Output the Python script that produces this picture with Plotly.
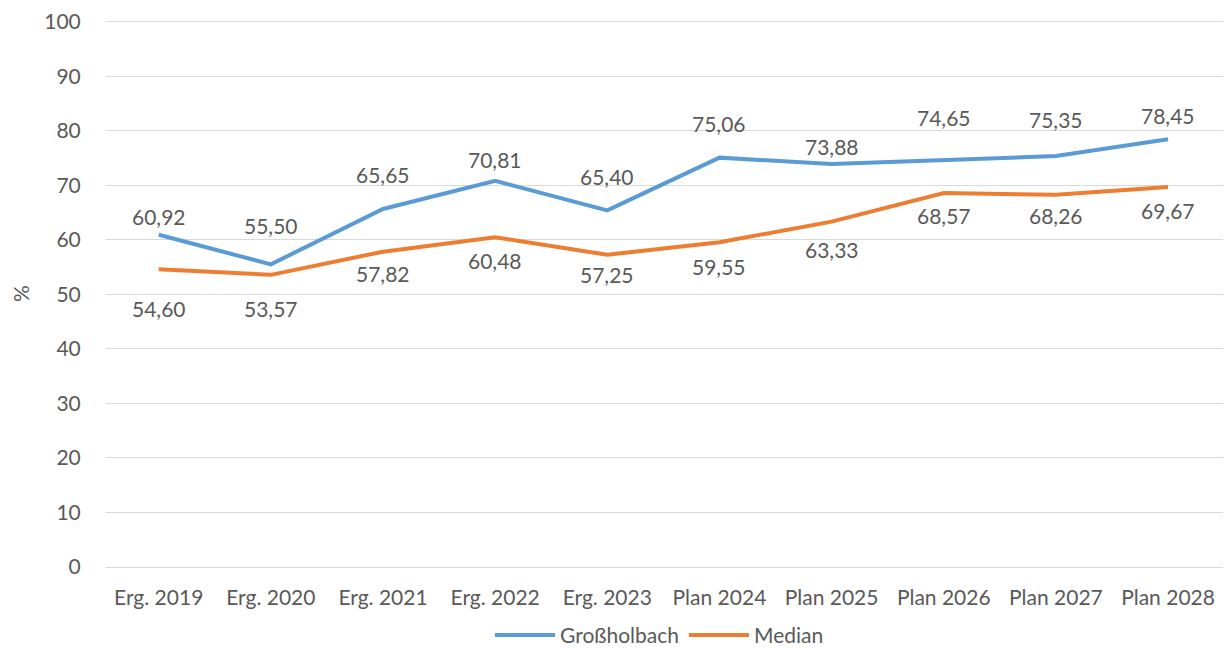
import plotly.graph_objects as go

categories = ["Erg. 2019", "Erg. 2020", "Erg. 2021", "Erg. 2022", "Erg. 2023",
              "Plan 2024", "Plan 2025", "Plan 2026", "Plan 2027", "Plan 2028"]
grossholbach = [60.92, 55.50, 65.65, 70.81, 65.40, 75.06, 73.88, 74.65, 75.35, 78.45]
median = [54.60, 53.57, 57.82, 60.48, 57.25, 59.55, 63.33, 68.57, 68.26, 69.67]

# label distance from the line (px), as placed in the original chart
grossholbach_label_shift = [18, 39, 34, 21, 34, 34, 18, 42, 37, 24]
median_label_shift = [-39, -34, -22, -23, -20, -24, -28, -22, -21, -23]


def fmt(v):
    return f"{v:.2f}".replace(".", ",")


text_color = "#595959"
font_family = "Lato"
fsize = 21

fig = go.Figure()
fig.add_trace(go.Scatter(
    x=categories, y=grossholbach, name="Großholbach", mode="lines",
    line=dict(color="#5B9BD5", width=4),
))
fig.add_trace(go.Scatter(
    x=categories, y=median, name="Median  ", mode="lines",
    line=dict(color="#ED7D31", width=4),
))

for series, shifts in ((grossholbach, grossholbach_label_shift),
                       (median, median_label_shift)):
    for cat, val, shift in zip(categories, series, shifts):
        fig.add_annotation(
            x=cat, y=val, text=fmt(val), showarrow=False,
            yshift=shift, yanchor="middle",
            font=dict(size=fsize, color=text_color),
        )

fig.update_xaxes(
    range=[-0.47, len(categories) - 0.51],
    showgrid=False, showline=True, linecolor="#d9d9d9", linewidth=1,
    ticks="outside", ticklen=12, tickcolor="rgba(0,0,0,0)",
    tickfont=dict(size=fsize, color=text_color),
)
fig.update_yaxes(
    range=[0, 100.3], dtick=10, showgrid=True, gridcolor="#d9d9d9", gridwidth=1,
    zeroline=False, ticks="outside", ticklen=20, tickcolor="rgba(0,0,0,0)",
    ticklabeloverflow="allow",
    tickfont=dict(size=fsize, color=text_color),
    title=dict(text="%", font=dict(size=fsize, color=text_color), standoff=22),
)
fig.update_layout(
    width=1215, height=648,
    margin=dict(l=94, r=0, t=10, b=89),
    plot_bgcolor="white", paper_bgcolor="white",
    font=dict(family=font_family, color=text_color),
    showlegend=True,
    legend=dict(
        orientation="h", x=0.5, xanchor="center",
        yref="container", y=0.032, yanchor="middle",
        font=dict(size=fsize, color=text_color), itemwidth=60,
    ),
)

fig.write_html("out.html")
